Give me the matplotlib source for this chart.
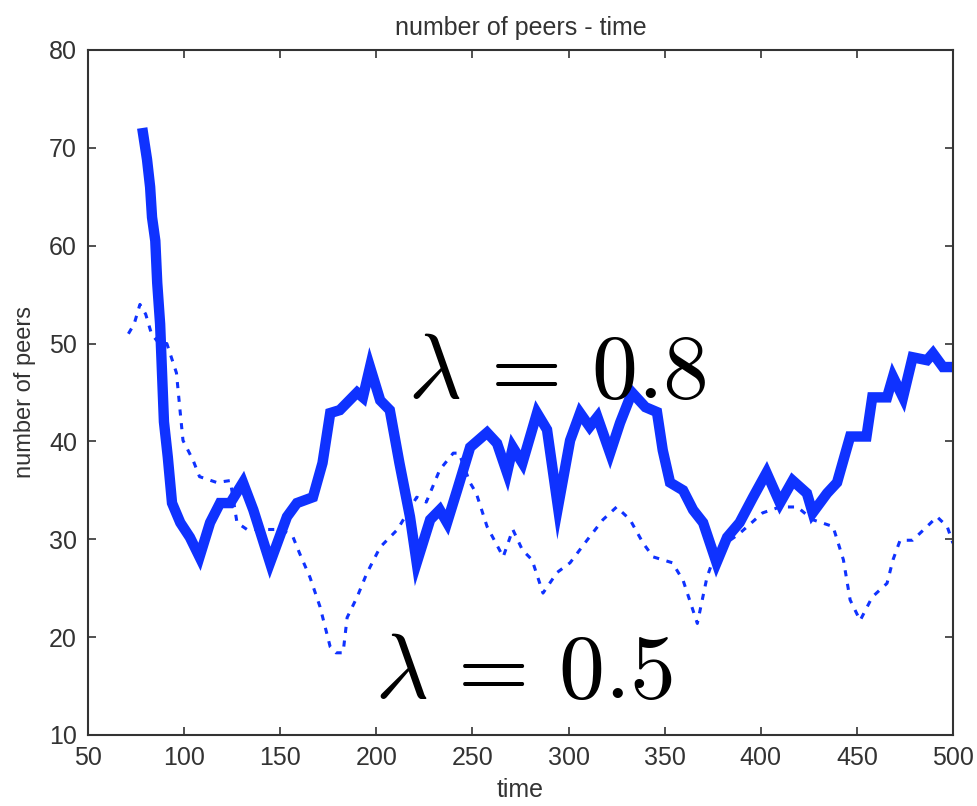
import numpy as np
import matplotlib
matplotlib.use('Agg')
import matplotlib.pyplot as plt

# lambda = 0.8 (solid, thick)
t08 = [78.6, 80.7, 82.3, 83.3, 85, 86, 87.5, 88.5, 89.5, 91.5,
       93.7, 98, 103, 108, 113.5, 118.7, 124, 130.6, 136, 144.7,
       153.5, 158.7, 167, 172, 176, 181, 190, 193, 196.7, 202,
       207, 212, 217.5, 221, 228, 233, 236.8, 242, 248.8, 257.6,
       262.8, 268, 271, 276, 283.6, 288.8, 294.5, 300.8, 306, 311,
       315, 321.6, 326.8, 333, 340, 346, 349, 352.8, 359.6, 364.8,
       370, 377, 382.5, 389, 396, 403, 410, 416.6, 424, 427,
       434.5, 439.7, 446.5, 455, 458, 465.7, 468.8, 474, 479, 486.5,
       489.6, 494.8, 500]
v08 = [71.5, 68.8, 66, 62.9, 60.5, 56.2, 52, 47, 42, 38.4,
       33.7, 31.7, 30.2, 28.2, 31.7, 33.7, 33.7, 35.8, 33, 27.6,
       32.3, 33.7, 34.3, 37.8, 42.9, 43.2, 45, 44.5, 47.6, 44.2,
       43.2, 37.8, 32.3, 27.6, 32, 33, 31.7, 35, 39.4, 40.9,
       39.8, 36.8, 39.4, 37.8, 42.9, 41.2, 33.3, 40.1, 42.9, 41.5,
       42.5, 38.8, 41.9, 45, 43.5, 43, 39.1, 35.8, 35, 33,
       31.7, 27.6, 30.2, 31.7, 34.3, 36.8, 33.7, 36, 34.7, 32.7,
       34.7, 35.8, 40.5, 40.5, 44.5, 44.5, 46.6, 44.5, 48.6, 48.3,
       49, 47.6, 47.6]

# lambda = 0.5 (dotted)
t05 = [71, 74, 77, 80, 83, 87, 91, 96, 98, 99.4,
       104.6, 108, 117, 124, 127.5, 132.7, 139, 146, 151, 156.7,
       160, 165.5, 170.7, 176, 179, 182.7, 184.8, 190, 195, 202,
       211, 221, 226, 233, 240, 243, 248.7, 252, 257.6, 266,
       271, 276, 281, 286.7, 294, 300.8, 309.6, 317.9, 325, 332,
       338.8, 344, 354, 359.6, 367, 372, 377, 389, 401, 410,
       419, 427, 437.6, 443, 446.5, 451.7, 458, 465.7, 468.8, 472.5,
       479, 486.5, 491.7, 497, 500]
v05 = [51, 52, 54, 53, 51, 50, 50, 47, 42.9, 40.1,
       38.1, 36.4, 35.8, 36, 31.7, 31, 31, 31, 31, 30.2,
       28.6, 26.1, 23.1, 19, 18.4, 18.4, 22, 24.1, 26.5, 29.2,
       31, 34.3, 33.8, 37.1, 38.8, 38.8, 35.8, 34.7, 31.3, 28.2,
       31, 28.9, 27.9, 24.5, 26.6, 27.6, 29.9, 32, 33.3, 32,
       29.6, 28.2, 27.6, 25.8, 21.4, 26.1, 28.9, 30.6, 32.7, 33.3,
       33.3, 32, 31.3, 27.9, 23.8, 21.7, 24.1, 25.5, 27.9, 29.9,
       29.9, 31.3, 32.3, 31.3, 29.6]

xticks = [50, 100, 150, 200, 250, 300, 350, 400, 450, 500]
yticks = [10, 20, 30, 40, 50, 60, 70, 80]

plt.rcParams['font.family'] = ['Liberation Sans', 'DejaVu Sans']
plt.rcParams['mathtext.fontset'] = 'cm'

fig = plt.figure(figsize=(9.77, 8.06), dpi=100)
ax = fig.add_axes([0.0901, 0.0881, 0.8853, 0.8499])

blue = '#0f32ff'
ax.plot(t05, v05, color=blue, lw=2.2, linestyle=(0, (2, 2.5)))
ax.plot(t08, v08, color=blue, lw=7.5, solid_joinstyle='miter')

ax.set_xlim(50, 500)
ax.set_ylim(10, 80)
ax.set_xticks(xticks)
ax.set_yticks(yticks)
ax.tick_params(direction='in', length=6, width=1.2, top=True, right=True,
               labelsize=18, colors='#333333', pad=8)
for s in ax.spines.values():
    s.set_linewidth(1.5)
    s.set_color('#333333')

ax.set_title('number of peers - time', fontsize=18, color='#333333', pad=11)
ax.set_xlabel('time', fontsize=18, color='#333333', labelpad=6)
ax.set_ylabel('number of peers', fontsize=17, color='#333333', labelpad=9)

ax.text(216.5, 44.4, r'$\lambda\,=\,0.8$', fontsize=66, color='black')
ax.text(199.3, 13.8, r'$\lambda\,=\,0.5$', fontsize=66, color='black')

fig.savefig('out.png', dpi=100)
